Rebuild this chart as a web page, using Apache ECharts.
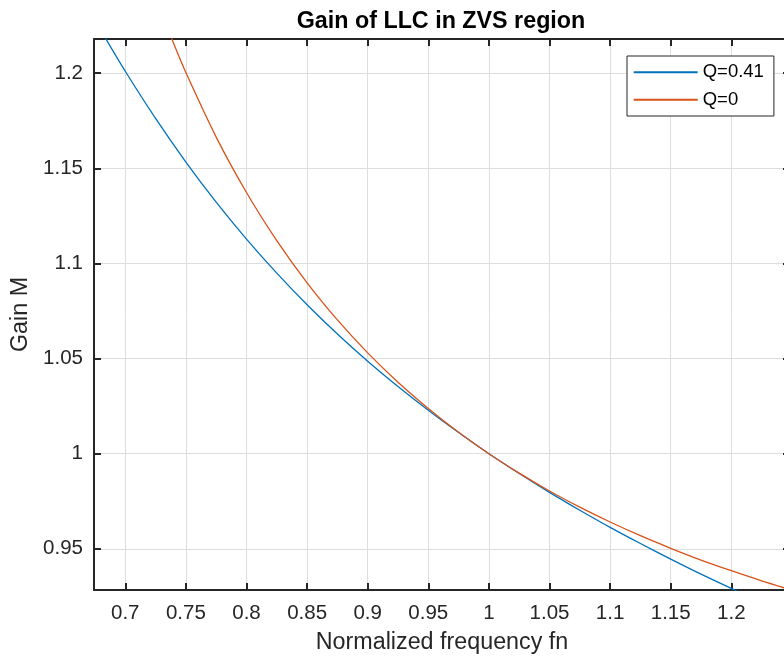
<!DOCTYPE html>
<html>
<head>
<meta charset="utf-8">
<title>Gain of LLC in ZVS region</title>
<script src="https://cdn.jsdelivr.net/npm/echarts@6.0.0/dist/echarts.min.js"></script>
<style>
  html, body { margin: 0; padding: 0; background: #fff; }
  #chart { width: 784px; height: 657px; }
</style>
</head>
<body>
<div id="chart"></div>
<script>
// normalized frequency (x) and gain readings for each curve
var fnQ041 = [0.67, 0.68, 0.70, 0.725, 0.75, 0.775, 0.80, 0.825, 0.85, 0.875, 0.90, 0.925, 0.95, 0.975,
              1.00, 1.025, 1.05, 1.075, 1.10, 1.125, 1.15, 1.175, 1.20, 1.225];
var gainQ041 = [1.2334, 1.2223, 1.2010, 1.1762, 1.1533, 1.1322, 1.1128, 1.0949, 1.0783, 1.0629, 1.0486, 1.0353, 1.0228, 1.0111,
                1.0000, 0.9896, 0.9797, 0.9703, 0.9613, 0.9528, 0.9446, 0.9367, 0.9292, 0.9219];

var fnQ0 = [0.73, 0.74, 0.75, 0.775, 0.80, 0.825, 0.85, 0.875, 0.90, 0.925, 0.95, 0.975,
            1.00, 1.025, 1.05, 1.075, 1.10, 1.125, 1.15, 1.175, 1.20, 1.225, 1.25];
var gainQ0 = [1.2317, 1.2155, 1.2003, 1.1664, 1.1373, 1.1120, 1.0898, 1.0703, 1.0530, 1.0376, 1.0238, 1.0113,
              1.0000, 0.9898, 0.9804, 0.9719, 0.9641, 0.9569, 0.9503, 0.9441, 0.9385, 0.9332, 0.9283];

var xTicks = [0.7, 0.75, 0.8, 0.85, 0.9, 0.95, 1, 1.05, 1.1, 1.15, 1.2];
var yTicks = [0.95, 1, 1.05, 1.1, 1.15, 1.2];
var seriesNames = ['Q=0.41', 'Q=0'];

var xMin = 0.6742, xMax = 1.2484;
var yMin = 0.92837, yMax = 1.21795;

function pairs(xs, ys) {
    return xs.map(function (x, i) { return [x, ys[i]]; });
}

var FONT = '"Liberation Sans", Arial, Helvetica, sans-serif';
var AX = '#262626';

var myChart = echarts.init(document.getElementById('chart'), null, { renderer: 'canvas' });

var baseX = {
    type: 'value', min: xMin, max: xMax,
    axisLine: { show: true, onZero: false, lineStyle: { color: AX, width: 2 } },
    axisTick: { show: true, inside: true, length: 7, customValues: xTicks, lineStyle: { color: AX, width: 2 } },
    splitLine: { show: false }
};
var baseY = {
    type: 'value', min: yMin, max: yMax,
    axisLine: { show: true, onZero: false, lineStyle: { color: AX, width: 2 } },
    axisTick: { show: true, inside: true, length: 7, customValues: yTicks, lineStyle: { color: AX, width: 2 } },
    splitLine: { show: false }
};

var option = {
    animation: false,
    backgroundColor: '#fff',
    graphic: [{
        type: 'text',
        x: 441, y: 10,
        style: {
            text: 'Gain of LLC in ZVS region',
            font: 'bold 23.3px ' + FONT,
            fill: '#000',
            textAlign: 'center',
            textVerticalAlign: 'top'
        }
    }],
    grid: { left: 94, top: 39, width: 696, height: 551, containLabel: false, outerBoundsMode: 'none' },
    legend: {
        data: seriesNames,
        orient: 'vertical',
        left: 627, top: 56,
        padding: [6.7, 10, 6.7, 5.7],
        itemWidth: 64, itemHeight: 18, itemGap: 8.6,
        itemStyle: { opacity: 0 },
        backgroundColor: '#fff',
        borderColor: '#262626', borderWidth: 1,
        textStyle: { fontFamily: FONT, fontSize: 18.5, color: '#000' }
    },
    xAxis: [
        Object.assign({}, baseX, {
            position: 'bottom',
            name: 'Normalized frequency fn',
            nameLocation: 'middle', nameGap: 41,
            nameTextStyle: { fontFamily: FONT, fontSize: 23.3, color: AX },
            axisLabel: { show: true, margin: 13, customValues: xTicks, fontFamily: FONT, fontSize: 20.5, color: AX },
            splitLine: { show: true, lineStyle: { color: '#dedede', width: 1 } }
        }),
        Object.assign({}, baseX, { position: 'top', axisLabel: { show: false } })
    ],
    yAxis: [
        Object.assign({}, baseY, {
            position: 'left',
            name: 'Gain M',
            nameLocation: 'middle', nameGap: 62,
            nameTextStyle: { fontFamily: FONT, fontSize: 23.3, color: AX },
            axisLabel: { show: true, margin: 11, customValues: yTicks, fontFamily: FONT, fontSize: 20.5, color: AX },
            splitLine: { show: true, lineStyle: { color: '#dedede', width: 1 } }
        }),
        Object.assign({}, baseY, { position: 'right', axisLabel: { show: false } })
    ],
    series: [
        {
            name: seriesNames[0], type: 'line', xAxisIndex: 0, yAxisIndex: 0,
            data: pairs(fnQ041, gainQ041),
            smooth: 0.3, symbol: 'none', clip: true,
            lineStyle: { color: '#0072BD', width: 1.3 },
            itemStyle: { color: '#0072BD' }
        },
        {
            name: seriesNames[1], type: 'line', xAxisIndex: 0, yAxisIndex: 0,
            data: pairs(fnQ0, gainQ0),
            smooth: 0.3, symbol: 'none', clip: true,
            lineStyle: { color: '#D95319', width: 1.3 },
            itemStyle: { color: '#D95319' }
        }
    ]
};

window.onresize = myChart.resize;
myChart.setOption(option);
</script>
</body>
</html>
